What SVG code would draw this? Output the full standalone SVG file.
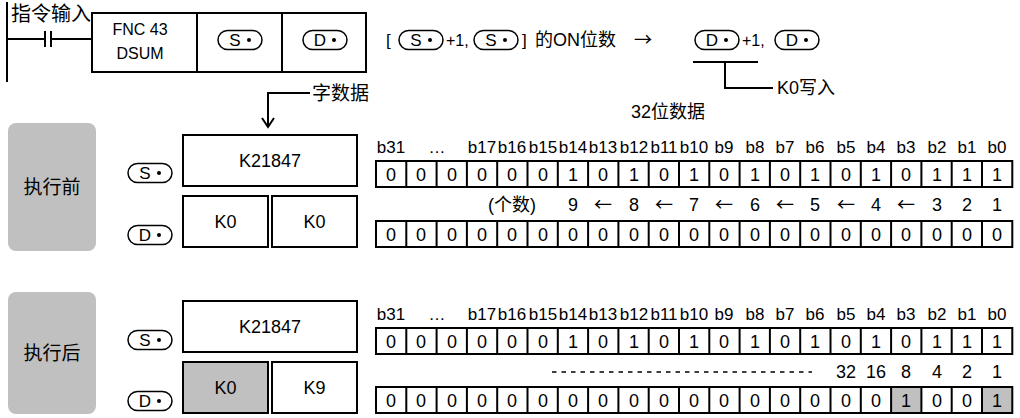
<svg xmlns="http://www.w3.org/2000/svg" width="1020" height="418" viewBox="0 0 1020 418">
<style>
.t{font-family:"Liberation Sans Narrow","Liberation Sans","Noto Sans CJK SC",sans-serif;fill:#000}
.c{font-family:"Noto Sans CJK SC","Liberation Sans",sans-serif;fill:#000}
.box{fill:#fff;stroke:#000;stroke-width:2}
.pill{fill:#fff;stroke:#000;stroke-width:1.5}
.ln{fill:none;stroke:#000;stroke-width:2}
.gray{fill:#c0c0c0}
.bit{font-size:18px;text-anchor:middle}
.hd{font-size:17px;text-anchor:middle}
</style>
<defs>
<g id="pS"><rect class="pill" x="-22" y="-9.5" width="44" height="19" rx="9.5"/><text class="t" x="-5" y="6" font-size="17" text-anchor="middle">S</text><circle cx="9" cy="0" r="2"/></g>
<g id="pD"><rect class="pill" x="-22" y="-9.5" width="44" height="19" rx="9.5"/><text class="t" x="-5" y="6" font-size="17" text-anchor="middle">D</text><circle cx="9" cy="0" r="2"/></g>
</defs>

<!-- ladder -->
<g id="ladder">
<line class="ln" x1="7" y1="2" x2="7" y2="82"/>
<text class="c" x="11" y="21" font-size="20">指令输入</text>
<path class="ln" d="M7,39 H45 M45,31 V47 M51,31 V47 M51,39 H92"/>
</g>
<g id="instr">
<rect class="box" x="92" y="13" width="274" height="59"/>
<line class="ln" x1="197" y1="13" x2="197" y2="72"/>
<line class="ln" x1="282" y1="13" x2="282" y2="72"/>
<text class="t" x="140" y="35" font-size="16" text-anchor="middle">FNC 43</text>
<text class="t" x="140" y="59" font-size="16" text-anchor="middle">DSUM</text>
<use href="#pS" x="240" y="40"/>
<use href="#pD" x="325" y="40"/>
</g>

<g id="formula">
<text class="t" x="386" y="46" font-size="17">[</text>
<use href="#pS" x="421" y="40"/>
<text class="t" x="446" y="46" font-size="16">+1,</text>
<use href="#pS" x="496" y="40"/>
<text class="t" x="522" y="46" font-size="17">]</text>
<text class="t" x="535" y="46" font-size="18">的ON位数</text>
<text class="c" x="643" y="46" font-size="18" text-anchor="middle">→</text>
<use href="#pD" x="717" y="40"/>
<text class="t" x="742" y="46" font-size="16">+1,</text>
<use href="#pD" x="797" y="40"/>
<path class="ln" d="M693,62 H758 M725,62 V88 H773"/>
<text class="t" x="777" y="94" font-size="18">K0写入</text>
</g>

<g id="labels">
<path class="ln" d="M310,93 H268 V126 M262,118 L268,127 L274,118"/>
<text class="c" x="312" y="100" font-size="19">字数据</text>
<text class="t" x="668" y="118" font-size="18" text-anchor="middle">32位数据</text>
</g>

<!-- before -->
<g id="before">
<rect class="gray" x="8" y="123" width="88" height="128" rx="8"/>
<text class="c" x="52" y="194" font-size="19" text-anchor="middle">执行前</text>
<rect class="box" x="183" y="135" width="174" height="51"/>
<text class="t" x="270" y="167" font-size="18" text-anchor="middle">K21847</text>
<use href="#pS" x="150" y="173"/>
<rect class="box" x="183" y="196" width="85" height="51"/>
<rect class="box" x="272" y="196" width="85" height="51"/>
<text class="t" x="225.5" y="228" font-size="18" text-anchor="middle">K0</text>
<text class="t" x="314.5" y="228" font-size="18" text-anchor="middle">K0</text>
<use href="#pD" x="150" y="235"/>
</g>

<g id="bits-before" class="t">
<g class="hd">
<text x="391" y="153">b31</text><text x="437" y="153">…</text>
<text x="482" y="153">b17</text><text x="512" y="153">b16</text><text x="543" y="153">b15</text><text x="573" y="153">b14</text><text x="603" y="153">b13</text><text x="634" y="153">b12</text><text x="664" y="153">b11</text><text x="694" y="153">b10</text><text x="724" y="153">b9</text><text x="755" y="153">b8</text><text x="785" y="153">b7</text><text x="815" y="153">b6</text><text x="846" y="153">b5</text><text x="876" y="153">b4</text><text x="906" y="153">b3</text><text x="937" y="153">b2</text><text x="967" y="153">b1</text><text x="997" y="153">b0</text>
</g>
<path class="box" d="M376,161 H1012.3 V187 H376 Z M406.3,161 V187 M436.6,161 V187 M466.9,161 V187 M497.2,161 V187 M527.5,161 V187 M557.8,161 V187 M588.1,161 V187 M618.4,161 V187 M648.7,161 V187 M679,161 V187 M709.3,161 V187 M739.6,161 V187 M769.9,161 V187 M800.2,161 V187 M830.5,161 V187 M860.8,161 V187 M891.1,161 V187 M921.4,161 V187 M951.7,161 V187 M982,161 V187"/>
<g class="bit">
<text x="391" y="181">0</text><text x="421" y="181">0</text><text x="452" y="181">0</text><text x="482" y="181">0</text><text x="512" y="181">0</text><text x="543" y="181">0</text><text x="573" y="181">1</text><text x="603" y="181">0</text><text x="634" y="181">1</text><text x="664" y="181">0</text><text x="694" y="181">1</text><text x="724" y="181">0</text><text x="755" y="181">1</text><text x="785" y="181">0</text><text x="815" y="181">1</text><text x="846" y="181">0</text><text x="876" y="181">1</text><text x="906" y="181">0</text><text x="937" y="181">1</text><text x="967" y="181">1</text><text x="997" y="181">1</text>
</g>
<g class="bit">
<text x="512" y="211">(个数)</text>
<text x="573" y="211">9</text><text class="c" x="603" y="211">←</text><text x="634" y="211">8</text><text class="c" x="664" y="211">←</text><text x="694" y="211">7</text><text class="c" x="724" y="211">←</text><text x="755" y="211">6</text><text class="c" x="785" y="211">←</text><text x="815" y="211">5</text><text class="c" x="846" y="211">←</text><text x="876" y="211">4</text><text class="c" x="906" y="211">←</text><text x="937" y="211">3</text><text x="967" y="211">2</text><text x="997" y="211">1</text>
</g>
<path class="box" d="M376,221 H1012.3 V247 H376 Z M406.3,221 V247 M436.6,221 V247 M466.9,221 V247 M497.2,221 V247 M527.5,221 V247 M557.8,221 V247 M588.1,221 V247 M618.4,221 V247 M648.7,221 V247 M679,221 V247 M709.3,221 V247 M739.6,221 V247 M769.9,221 V247 M800.2,221 V247 M830.5,221 V247 M860.8,221 V247 M891.1,221 V247 M921.4,221 V247 M951.7,221 V247 M982,221 V247"/>
<g class="bit">
<text x="391" y="241">0</text><text x="421" y="241">0</text><text x="452" y="241">0</text><text x="482" y="241">0</text><text x="512" y="241">0</text><text x="543" y="241">0</text><text x="573" y="241">0</text><text x="603" y="241">0</text><text x="634" y="241">0</text><text x="664" y="241">0</text><text x="694" y="241">0</text><text x="724" y="241">0</text><text x="755" y="241">0</text><text x="785" y="241">0</text><text x="815" y="241">0</text><text x="846" y="241">0</text><text x="876" y="241">0</text><text x="906" y="241">0</text><text x="937" y="241">0</text><text x="967" y="241">0</text><text x="997" y="241">0</text>
</g>
</g>

<!-- after -->
<g id="after">
<rect class="gray" x="8" y="292" width="88" height="122" rx="8"/>
<text class="c" x="52" y="360" font-size="19" text-anchor="middle">执行后</text>
<rect class="box" x="183" y="301" width="174" height="51"/>
<text class="t" x="270" y="333" font-size="18" text-anchor="middle">K21847</text>
<use href="#pS" x="150" y="340"/>
<rect class="box" style="fill:#c0c0c0" x="183" y="362" width="85" height="51"/>
<rect class="box" x="272" y="362" width="85" height="51"/>
<text class="t" x="225.5" y="394" font-size="18" text-anchor="middle">K0</text>
<text class="t" x="314.5" y="394" font-size="18" text-anchor="middle">K9</text>
<use href="#pD" x="150" y="401"/>
</g>

<g id="bits-after" class="t">
<g class="hd">
<text x="391" y="320">b31</text><text x="437" y="320">…</text>
<text x="482" y="320">b17</text><text x="512" y="320">b16</text><text x="543" y="320">b15</text><text x="573" y="320">b14</text><text x="603" y="320">b13</text><text x="634" y="320">b12</text><text x="664" y="320">b11</text><text x="694" y="320">b10</text><text x="724" y="320">b9</text><text x="755" y="320">b8</text><text x="785" y="320">b7</text><text x="815" y="320">b6</text><text x="846" y="320">b5</text><text x="876" y="320">b4</text><text x="906" y="320">b3</text><text x="937" y="320">b2</text><text x="967" y="320">b1</text><text x="997" y="320">b0</text>
</g>
<path class="box" d="M376,328 H1012.3 V354 H376 Z M406.3,328 V354 M436.6,328 V354 M466.9,328 V354 M497.2,328 V354 M527.5,328 V354 M557.8,328 V354 M588.1,328 V354 M618.4,328 V354 M648.7,328 V354 M679,328 V354 M709.3,328 V354 M739.6,328 V354 M769.9,328 V354 M800.2,328 V354 M830.5,328 V354 M860.8,328 V354 M891.1,328 V354 M921.4,328 V354 M951.7,328 V354 M982,328 V354"/>
<g class="bit">
<text x="391" y="348">0</text><text x="421" y="348">0</text><text x="452" y="348">0</text><text x="482" y="348">0</text><text x="512" y="348">0</text><text x="543" y="348">0</text><text x="573" y="348">1</text><text x="603" y="348">0</text><text x="634" y="348">1</text><text x="664" y="348">0</text><text x="694" y="348">1</text><text x="724" y="348">0</text><text x="755" y="348">1</text><text x="785" y="348">0</text><text x="815" y="348">1</text><text x="846" y="348">0</text><text x="876" y="348">1</text><text x="906" y="348">0</text><text x="937" y="348">1</text><text x="967" y="348">1</text><text x="997" y="348">1</text>
</g>
<line x1="552" y1="372" x2="812" y2="372" stroke="#000" stroke-width="1.6" stroke-dasharray="4.5 5"/>
<g class="bit">
<text x="846" y="378">32</text><text x="876" y="378">16</text><text x="906" y="378">8</text><text x="937" y="378">4</text><text x="967" y="378">2</text><text x="997" y="378">1</text>
</g>
<rect class="gray" x="891.1" y="387" width="30.3" height="26"/>
<rect class="gray" x="982" y="387" width="30.3" height="26"/>
<path class="box" style="fill:none" d="M376,387 H1012.3 V413 H376 Z M406.3,387 V413 M436.6,387 V413 M466.9,387 V413 M497.2,387 V413 M527.5,387 V413 M557.8,387 V413 M588.1,387 V413 M618.4,387 V413 M648.7,387 V413 M679,387 V413 M709.3,387 V413 M739.6,387 V413 M769.9,387 V413 M800.2,387 V413 M830.5,387 V413 M860.8,387 V413 M891.1,387 V413 M921.4,387 V413 M951.7,387 V413 M982,387 V413"/>
<g class="bit">
<text x="391" y="407">0</text><text x="421" y="407">0</text><text x="452" y="407">0</text><text x="482" y="407">0</text><text x="512" y="407">0</text><text x="543" y="407">0</text><text x="573" y="407">0</text><text x="603" y="407">0</text><text x="634" y="407">0</text><text x="664" y="407">0</text><text x="694" y="407">0</text><text x="724" y="407">0</text><text x="755" y="407">0</text><text x="785" y="407">0</text><text x="815" y="407">0</text><text x="846" y="407">0</text><text x="876" y="407">0</text><text x="906" y="407">1</text><text x="937" y="407">0</text><text x="967" y="407">0</text><text x="997" y="407">1</text>
</g>
</g>
</svg>
